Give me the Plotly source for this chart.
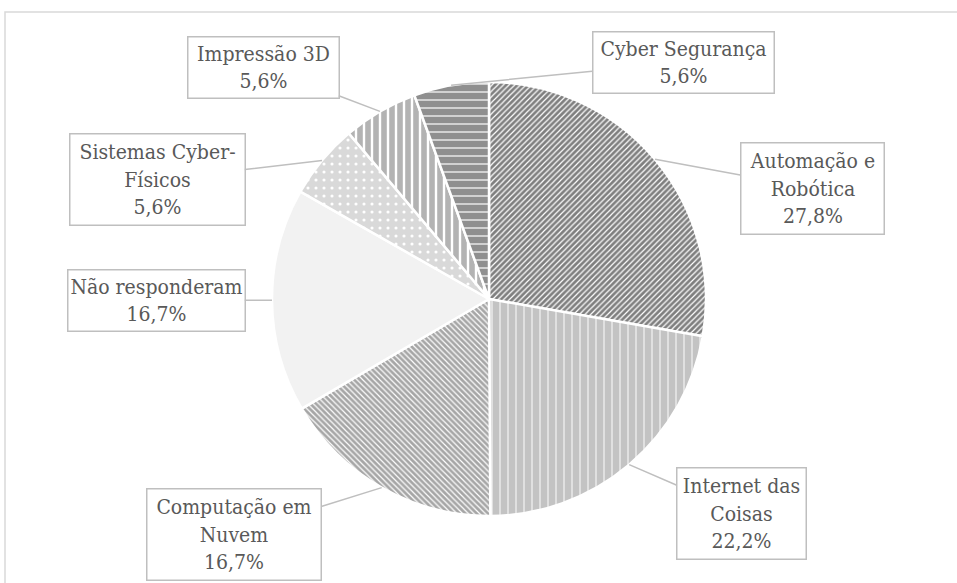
import math
import plotly.graph_objects as go

# ---- data ----
categories = ["Automação e Robótica", "Internet das Coisas", "Computação em Nuvem",
              "Não responderam", "Sistemas Cyber-Físicos", "Impressão 3D", "Cyber Segurança"]
label_lines = ["Automação e<br>Robótica", "Internet das<br>Coisas", "Computação em<br>Nuvem",
               "Não responderam", "Sistemas Cyber-<br>Físicos", "Impressão 3D", "Cyber Segurança"]
values = [27.8, 22.2, 16.7, 16.7, 5.6, 5.6, 5.6]

# ---- styles ----
W, H = 957, 583
FONT = "DejaVu Serif Condensed"
bg_colors = ["#7f7f7f", "#c3c3c3", "#a6a6a6", "#f2f2f2", "#d9d9d9", "#b3b3b3", "#8f8f8f"]
pat_shapes = ["/", "|", "\\", "", ".", "|", "-"]
pat_sizes = [4, 8, 4, 8, 8, 8, 8]
pat_solid = [0.3, 0.12, 0.3, 0.2, 0.12, 0.3, 0.15]

cx, cy, R = 489, 299, 217  # pie layout in pixels
dom_x = [(cx - R) / W, (cx + R) / W]
dom_y = [1 - (cy + R) / H, 1 - (cy - R) / H]

# label box centres and sizes (pixels)
box_pos = [(812, 188), (741, 513), (234, 534), (156, 300), (157, 180), (263, 67), (683, 62)]
box_size = [(142, 90), (128, 90), (173, 90), (176, 60), (174, 90), (150, 60), (180, 60)]

pct_text = [f"{v:.1f}".replace(".", ",") + "%" for v in values]

fig = go.Figure(go.Pie(
    labels=categories,
    values=values,
    sort=False,
    direction="clockwise",
    rotation=0,
    textinfo="none",
    hoverinfo="label+percent",
    domain=dict(x=dom_x, y=dom_y),
    marker=dict(
        colors=bg_colors,
        line=dict(color="white", width=2.5),
        pattern=dict(shape=pat_shapes, size=pat_sizes, solidity=pat_solid,
                     fgcolor="white", bgcolor=bg_colors, fillmode="replace"),
    ),
    showlegend=False,
))

total = sum(values)
cum = 0.0
annotations = []
for i, v in enumerate(values):
    mid = (cum + v / 2) / total * 360.0
    cum += v
    px = cx + R * math.sin(math.radians(mid))
    py = cy - R * math.cos(math.radians(mid))
    bx, by = box_pos[i]
    bw, bh = box_size[i]
    annotations.append(dict(
        x=px / W, y=1 - py / H, xref="paper", yref="paper",
        ax=bx - px, ay=by - py,
        text=label_lines[i] + "<br>" + pct_text[i],
        showarrow=True, arrowhead=0, arrowwidth=1.5, arrowcolor="#bfbfbf", standoff=0,
        font=dict(family=FONT, size=21, color="#595959"),
        bordercolor="#bfbfbf", borderwidth=1.5, borderpad=0, bgcolor="white",
        width=bw, height=bh, align="center", valign="middle",
    ))

fig.update_layout(
    width=W, height=H,
    margin=dict(l=0, r=0, t=0, b=0),
    paper_bgcolor="white", plot_bgcolor="white",
    font=dict(family=FONT),
    annotations=annotations,
    shapes=[dict(type="rect", xref="paper", yref="paper",
                 x0=5 / W, x1=1.02, y0=-0.02, y1=1 - 12 / H,
                 line=dict(color="#d9d9d9", width=1.5), fillcolor="rgba(0,0,0,0)", layer="below")],
)

fig.write_html("out.html", config={"displayModeBar": False},
               post_script="document.body.style.margin='0px';document.body.style.padding='0px';")
